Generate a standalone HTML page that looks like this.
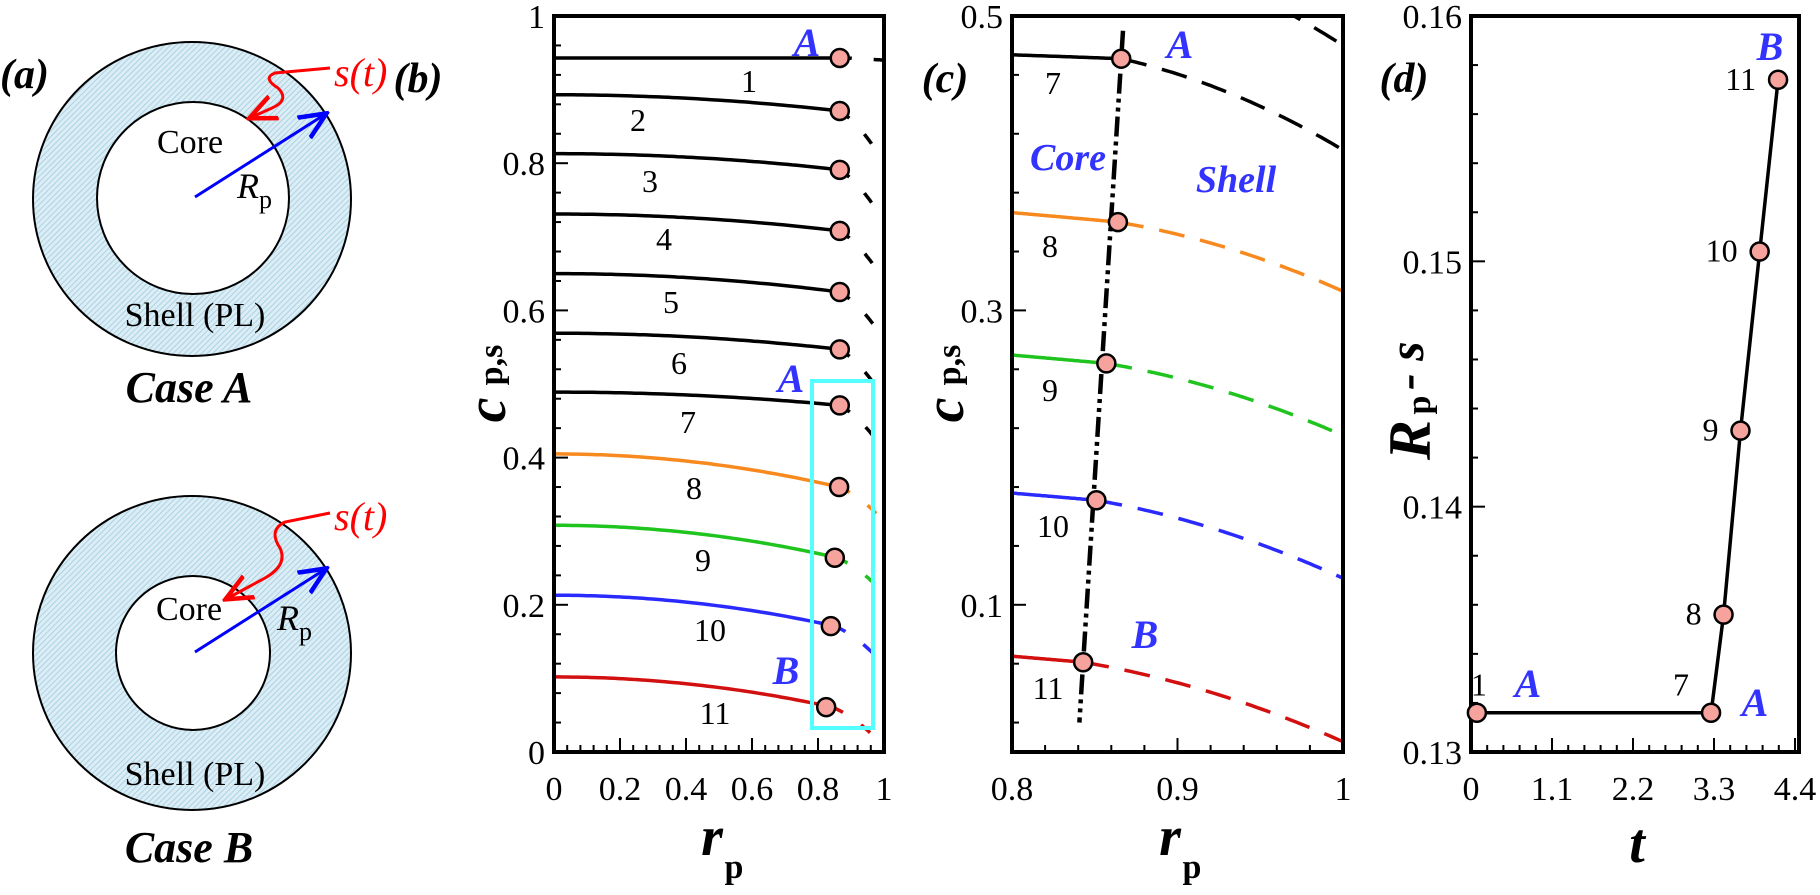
<!DOCTYPE html>
<html><head><meta charset="utf-8"><style>
html,body{margin:0;padding:0;background:#fff;}
svg, svg text{font-family:"Liberation Serif","DejaVu Serif",serif;}
</style></head><body>
<svg id="fig" width="1820" height="890" viewBox="0 0 1820 890" xmlns="http://www.w3.org/2000/svg" font-family="Liberation Serif, serif">
<defs>
<pattern id="hatch" width="4" height="4" patternUnits="userSpaceOnUse" patternTransform="rotate(45)">
<rect width="4" height="4" fill="#dcedf5"/><line x1="0" y1="0" x2="0" y2="4" stroke="#9fcde0" stroke-width="1.6"/>
</pattern>
<clipPath id="clipB"><rect x="554" y="16" width="330" height="736"/></clipPath>
<clipPath id="clipC"><rect x="1012" y="16" width="331" height="736"/></clipPath>
<marker id="redhead" markerWidth="10" markerHeight="10" refX="8" refY="5" orient="auto"><path d="M0,1 L9,5 L0,9" fill="none" stroke="#f00" stroke-width="1.5"/></marker>
<marker id="bluehead" markerWidth="10" markerHeight="10" refX="8" refY="5" orient="auto"><path d="M0,1 L9,5 L0,9" fill="none" stroke="#00f" stroke-width="1.5"/></marker>
</defs>

<g>
<text x="0" y="88" font-family="Liberation Serif, serif" font-size="42" font-weight="bold" font-style="italic">(a)</text>
<g>
<ellipse cx="192" cy="199" rx="159" ry="157" fill="url(#hatch)" stroke="#000" stroke-width="2"/>
<circle cx="193" cy="198" r="96" fill="#fff" stroke="#000" stroke-width="2"/>
<line x1="195" y1="197" x2="324" y2="115" stroke="#00f" stroke-width="3" marker-end="url(#bluehead)"/>
<path d="M330,68 L275,73 Q262,78 278,88 Q290,100 272,108 L252,117" fill="none" stroke="#f00" stroke-width="3" marker-end="url(#redhead)"/>
<text x="334" y="86" font-family="Liberation Serif, serif" font-size="40" fill="#f00" font-style="italic">s(t)</text>
<text x="190" y="153" font-family="Liberation Serif, serif" font-size="34" text-anchor="middle">Core</text>
<text x="237" y="198" font-family="Liberation Serif, serif" font-size="36" font-style="italic">R<tspan font-size="26" font-style="normal" dy="10">p</tspan></text>
<text x="195" y="326" font-family="Liberation Serif, serif" font-size="34" text-anchor="middle">Shell (PL)</text>
<text x="189" y="402" font-family="Liberation Serif, serif" font-size="44" font-weight="bold" font-style="italic" text-anchor="middle">Case A</text>
</g>
<g>
<ellipse cx="192" cy="653" rx="159" ry="157" fill="url(#hatch)" stroke="#000" stroke-width="2"/>
<circle cx="193" cy="653" r="77" fill="#fff" stroke="#000" stroke-width="2"/>
<line x1="195" y1="652" x2="324" y2="570" stroke="#00f" stroke-width="3" marker-end="url(#bluehead)"/>
<path d="M330,513 L285,522 Q268,530 280,548 Q288,565 265,578 L228,598" fill="none" stroke="#f00" stroke-width="3" marker-end="url(#redhead)"/>
<text x="334" y="530" font-family="Liberation Serif, serif" font-size="40" fill="#f00" font-style="italic">s(t)</text>
<text x="189" y="620" font-family="Liberation Serif, serif" font-size="34" text-anchor="middle">Core</text>
<text x="277" y="630" font-family="Liberation Serif, serif" font-size="36" font-style="italic">R<tspan font-size="26" font-style="normal" dy="10">p</tspan></text>
<text x="195" y="785" font-family="Liberation Serif, serif" font-size="34" text-anchor="middle">Shell (PL)</text>
<text x="189" y="862" font-family="Liberation Serif, serif" font-size="44" font-weight="bold" font-style="italic" text-anchor="middle">Case B</text>
</g>
</g>

<g id="pb"></g>
<g id="pc"></g>
<g id="pd"></g>
</svg>
<script>
// ---- data ----
const curveIds = [1,2,3,4,5,6,7,8,9,10,11];
const coreStart = [0.943,0.893,0.813,0.731,0.650,0.569,0.489,0.405,0.308,0.213,0.102];
const interfaceC = [0.943,0.871,0.791,0.708,0.625,0.547,0.471,0.360,0.264,0.171,0.061];
const interfaceR = [0.866,0.866,0.866,0.866,0.866,0.866,0.866,0.864,0.857,0.851,0.843];
const shellEnd = [0.940,0.800,0.720,0.640,0.560,0.480,0.409,0.313,0.215,0.118,0.007];
const curveColors = ['#000','#000','#000','#000','#000','#000','#000','#f7891f','#1fc41f','#2a2aff','#d21010'];
const bXTicks = [0,0.2,0.4,0.6,0.8,1];
const bXLabels = ['0','0.2','0.4','0.6','0.8','1'];
const bYTicks = [0,0.2,0.4,0.6,0.8,1];
const bYLabels = ['0','0.2','0.4','0.6','0.8','1'];
const cXTicks = [0.8,0.9,1];
const cXLabels = ['0.8','0.9','1'];
const cYTicks = [0.1,0.3,0.5];
const cYLabels = ['0.1','0.3','0.5'];
const dTimes = [0.08,3.26,3.43,3.66,3.92,4.17];
const dValues = [0.1316,0.1316,0.1356,0.1431,0.1504,0.1574];
const dPointLabels = ['1','7','8','9','10','11'];
const dXTicks = [0,1.1,2.2,3.3,4.4];
const dXLabels = ['0','1.1','2.2','3.3','4.4'];
const dYTicks = [0.13,0.14,0.15,0.16];
const dYLabels = ['0.13','0.14','0.15','0.16'];

const NS='http://www.w3.org/2000/svg';
const FONT='Liberation Serif, serif';
function mk(parent,tag,attrs,txt){const e=document.createElementNS(NS,tag);for(const k in attrs)e.setAttribute(k,attrs[k]);if(txt!==undefined)e.textContent=txt;parent.appendChild(e);return e;}

const bx=r=>554+330*r, by=c=>752-736*c;
const cx=r=>1012+(r-0.8)/0.2*331, cy=c=>752-1472*c;
const dx=t=>1471+t/4.4*324, dy=v=>752-(v-0.13)/0.03*736;

function coreVal(i,r){const rm=interfaceR[i];return coreStart[i]-(coreStart[i]-interfaceC[i])*(r/rm)*(r/rm);}
function shellVal(i,r){const rm=interfaceR[i],d=1-rm;const lin=(shellEnd[i]-interfaceC[i])/d;const s=0.55*lin;const a=(shellEnd[i]-interfaceC[i]-s*d)/(d*d);const u=r-rm;return interfaceC[i]+s*u+a*u*u;}
function pathPts(f,i,r0,r1,X,Y){let p='';const n=60;for(let k=0;k<=n;k++){const r=r0+(r1-r0)*k/n;p+=(k?'L':'M')+X(r).toFixed(1)+','+Y(f(i,r)).toFixed(1);}return p;}

function axes(g,x0,y0,x1,y1,name){
  const r=mk(g,'rect',{x:x0,y:y0,width:x1-x0,height:y1-y0,fill:'none',stroke:'#000','stroke-width':4});
  
  
}
function tick(g,x1,y1,x2,y2,w){const t=mk(g,'line',{x1,y1,x2,y2,stroke:'#000','stroke-width':w||2});
  
  }
function label(g,x,y,s,size,anchor,extra,name){const t=mk(g,'text',Object.assign({x,y,'font-size':size,'font-family':FONT,'text-anchor':anchor||'middle'},extra||{}),s);
  
  return t;}
function blue(g,x,y,s,size,name){return label(g,x,y,s,size,'middle',{fill:'#3333ff','font-weight':'bold','font-style':'italic'},name);}
function marker(g,x,y,name){const c=mk(g,'circle',{cx:x,cy:y,r:9,fill:'#f5a39c',stroke:'#000','stroke-width':2.5});
  
  }

// ---- panel b ----
const pb=document.getElementById('pb');
label(pb,418,92,'(b)',42,'middle',{'font-weight':'bold','font-style':'italic'},'panel-b-label');
const gb=mk(pb,'g',{'clip-path':'url(#clipB)'});


curveIds.forEach((id,i)=>{
  const p1=mk(gb,'path',{d:pathPts(coreVal,i,0,interfaceR[i],bx,by),fill:'none',stroke:curveColors[i],'stroke-width':3.5});
  
  
  const p2=mk(gb,'path',{d:pathPts(shellVal,i,interfaceR[i],1,bx,by),fill:'none',stroke:curveColors[i],'stroke-width':3.5,'stroke-dasharray':'12 22'});
  
  
});
const cyanBox=mk(pb,'rect',{x:812,y:381,width:61,height:347,fill:'none',stroke:'#5ff','stroke-width':4});


curveIds.forEach((id,i)=>marker(pb,bx(interfaceR[i])-(i>7?(i-7)*2:0),by(interfaceC[i]),'b-interface-marker-'+id));
const bNumPos=[[749,80],[638,119],[650,180],[664,238],[671,301],[679,362],[688,421],[694,487],[703,559],[710,629],[715,712]];
curveIds.forEach((id,i)=>label(pb,bNumPos[i][0],bNumPos[i][1]+12,String(id),32,'middle',{},'b-curve-number-'+id));
blue(pb,807,56,'A',40,'b-label-a-top');blue(pb,791,392,'A',40,'b-label-a');blue(pb,786,684,'B',40,'b-label-b');
axes(pb,554,16,884,752,'panel-b');
for(let v=0;v<=1.0001;v+=0.04){const y=by(v),maj=Math.abs(v*5-Math.round(v*5))<1e-6;tick(pb,554,y,554+(maj?14:7),y);}
for(let v=0;v<=1.0001;v+=0.04){const x=bx(v),maj=Math.abs(v*5-Math.round(v*5))<1e-6;tick(pb,x,752,x,752-(maj?14:7));}
bYTicks.forEach((v,k)=>label(pb,545,by(v)+12,bYLabels[k],34,'end',{},'b-y-tick-label'));
bXTicks.forEach((v,k)=>label(pb,bx(v),800,bXLabels[k],34,'middle',{},'b-x-tick-label'));
label(pb,0,0,'c',56,'middle',{'font-weight':'bold','font-style':'italic',transform:'translate(505,410) rotate(-90)'},'b-y-axis-title');
label(pb,0,0,'p,s',34,'middle',{'font-weight':'bold',transform:'translate(502,365) rotate(-90)'},'b-y-axis-subscript');
label(pb,712,855,'r',56,'middle',{'font-weight':'bold','font-style':'italic'},'b-x-axis-title');
label(pb,734,878,'p',34,'middle',{'font-weight':'bold'},'b-x-axis-subscript');

// ---- panel c ----
const pc=document.getElementById('pc');
label(pc,945,92,'(c)',42,'middle',{'font-weight':'bold','font-style':'italic'},'panel-c-label');
const gc=mk(pc,'g',{'clip-path':'url(#clipC)'});


curveIds.forEach((id,i)=>{
  const p1=mk(gc,'path',{d:pathPts(coreVal,i,0.8,interfaceR[i],cx,cy),fill:'none',stroke:curveColors[i],'stroke-width':3.5});
  
  
  const p2=mk(gc,'path',{d:pathPts(shellVal,i,interfaceR[i],1,cx,cy),fill:'none',stroke:curveColors[i],'stroke-width':3.5,'stroke-dasharray':'26 16'});
  
  
});
{const rA=interfaceR[6],cA=interfaceC[6],rB=interfaceR[10],cB=interfaceC[10];
 const f=c=>rA+(rB-rA)*(c-cA)/(cB-cA);
 const il=mk(gc,'line',{x1:cx(f(0.49)),y1:cy(0.49),x2:cx(f(0.02)),y2:cy(0.02),stroke:'#000','stroke-width':4.5,'stroke-dasharray':'20 5 4 5 4 5'});
 
 }
for(let i=6;i<11;i++)marker(pc,cx(interfaceR[i]),cy(interfaceC[i]),'c-interface-marker-'+curveIds[i]);
const cNumPos=[[1053,82],[1050,245],[1050,389],[1053,525],[1048,687]];
for(let i=6;i<11;i++)label(pc,cNumPos[i-6][0],cNumPos[i-6][1]+12,String(curveIds[i]),32,'middle',{},'c-curve-number-'+curveIds[i]);
blue(pc,1180,58,'A',40,'c-label-a');blue(pc,1068,170,'Core',38,'c-label-core');blue(pc,1236,192,'Shell',38,'c-label-shell');blue(pc,1145,648,'B',40,'c-label-b');
axes(pc,1012,16,1343,752,'panel-c');
for(let k=0;k<=25;k++){const v=k*0.02;const maj=cYTicks.some(t=>Math.abs(t-v)<1e-6);if(!maj&&k%2===0)continue;const y=cy(v);tick(pc,1012,y,1012+(maj?14:7),y);}
for(let v=0.8;v<=1.0001;v+=0.02){const x=cx(v);const maj=cXTicks.some(t=>Math.abs(t-v)<1e-6);tick(pc,x,752,x,752-(maj?14:7));}
cYTicks.forEach((v,k)=>label(pc,1003,cy(v)+12,cYLabels[k],34,'end',{},'c-y-tick-label'));
cXTicks.forEach((v,k)=>label(pc,cx(v),800,cXLabels[k],34,'middle',{},'c-x-tick-label'));
label(pc,0,0,'c',56,'middle',{'font-weight':'bold','font-style':'italic',transform:'translate(963,410) rotate(-90)'},'c-y-axis-title');
label(pc,0,0,'p,s',34,'middle',{'font-weight':'bold',transform:'translate(960,365) rotate(-90)'},'c-y-axis-subscript');
label(pc,1170,855,'r',56,'middle',{'font-weight':'bold','font-style':'italic'},'c-x-axis-title');
label(pc,1192,878,'p',34,'middle',{'font-weight':'bold'},'c-x-axis-subscript');

// ---- panel d ----
const pd=document.getElementById('pd');
label(pd,1404,92,'(d)',42,'middle',{'font-weight':'bold','font-style':'italic'},'panel-d-label');
axes(pd,1471,16,1799,752,'panel-d');
for(let k=0;k<=15;k++){const v=0.13+k*0.002;const y=dy(v);const maj=k%5===0;tick(pd,1471,y,1471+(maj?14:7),y);}
for(let k=0;k<=20;k++){const v=k*0.22;const x=dx(v);const maj=k%5===0;tick(pd,x,752,x,752-(maj?14:7));}
dYTicks.forEach((v,k)=>label(pd,1462,dy(v)+12,dYLabels[k],34,'end',{},'d-y-tick-label'));
dXTicks.forEach((v,k)=>label(pd,dx(v),800,dXLabels[k],34,'middle',{},'d-x-tick-label'));
{let p='';dTimes.forEach((t,k)=>{p+=(k?'L':'M')+dx(t).toFixed(1)+','+dy(dValues[k]).toFixed(1);});
 const pl=mk(pd,'path',{d:p,fill:'none',stroke:'#000','stroke-width':3.5});
 
 }
dTimes.forEach((t,k)=>marker(pd,dx(t),dy(dValues[k]),'d-point-'+dPointLabels[k]));
dTimes.forEach((t,k)=>{const lx=k===0?dx(t)+10:dx(t)-22;const ly=k<2?dy(dValues[k])-17:dy(dValues[k])+10;label(pd,lx,ly,dPointLabels[k],32,'end',{},'d-point-label-'+dPointLabels[k]);});
blue(pd,1770,60,'B',40,'d-label-b');blue(pd,1528,697,'A',40,'d-label-a-start');blue(pd,1755,716,'A',40,'d-label-a-end');
label(pd,0,0,'R',60,'middle',{'font-weight':'bold','font-style':'italic',transform:'translate(1430,440) rotate(-90)'},'d-y-axis-title');
label(pd,0,0,'p',34,'middle',{'font-weight':'bold',transform:'translate(1430,405) rotate(-90)'},'d-y-axis-subscript');
label(pd,0,0,'- s',50,'start',{'font-weight':'bold','font-style':'italic',transform:'translate(1423,390) rotate(-90)'},'d-y-axis-title-rest');
label(pd,1637,862,'t',56,'middle',{'font-weight':'bold','font-style':'italic'},'d-x-axis-title');
</script>
</body></html>
